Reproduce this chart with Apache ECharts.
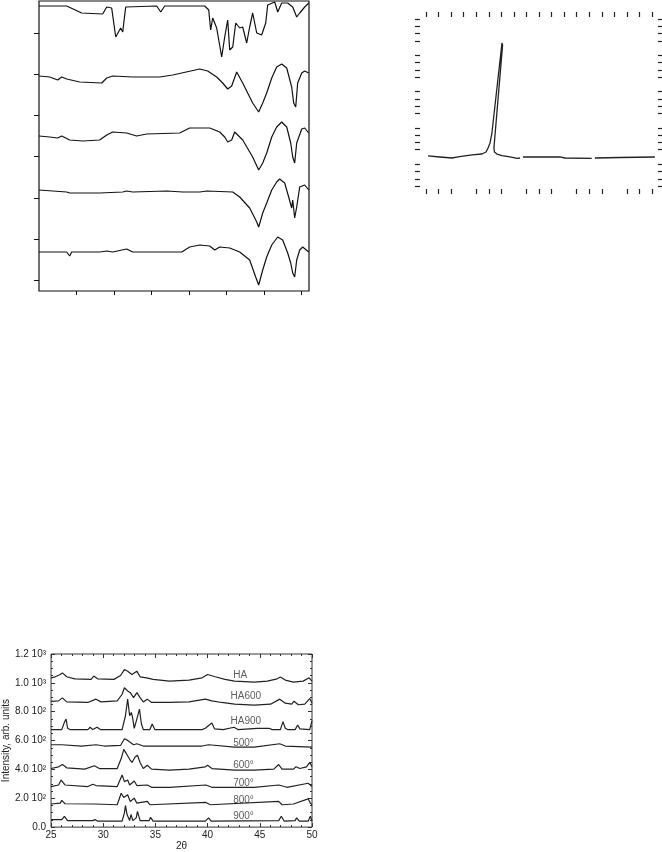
<!DOCTYPE html>
<html>
<head>
<meta charset="utf-8">
<script src="https://cdn.jsdelivr.net/npm/echarts@6/dist/echarts.min.js"></script>
<style>
html,body{margin:0;padding:0;background:#fff;}
#chart{width:662px;height:852px;}
</style>
</head>
<body>
<div id="chart"></div>
<script>
// ---------- Panel 1: IR spectra (wavenumber, transmittance offset) ----------
const irTickWavenumbers = [3500, 3000, 2500, 2000, 1500, 1000, 500];
const irTickLevels = [11, 52, 93, 135, 176, 217, 258];
const irTrace1 = [[4000,285],[3631,285],[3431,278],[3151,277],[3097,284],[3031,283],[2977,254],[2911,263],[2884,259],[2844,284],[2431,285],[2377,279],[2324,285],[1791,285],[1737,281],[1711,261],[1684,273],[1631,263],[1564,234],[1524,254],[1484,271],[1457,241],[1417,244],[1377,268],[1324,263],[1284,264],[1231,248],[1191,264],[1151,278],[1097,258],[1031,256],[977,268],[951,286],[857,289],[817,279],[764,288],[684,288],[617,284],[564,274],[524,278],[457,284],[404,288]];
const irTrace2 = [[4000,215],[3857,214],[3751,211],[3697,214],[3631,212],[3457,209],[3164,208],[3097,213],[3017,215],[2751,214],[2391,214],[2217,216],[1857,222],[1751,220],[1631,214],[1551,208],[1484,202],[1431,205],[1364,219],[1284,208],[1151,188],[1071,179],[1017,188],[964,198],[897,213],[831,224],[764,227],[697,223],[631,204],[604,188],[577,184],[551,208],[497,218],[457,220],[404,218]];
const irTrace3 = [[4000,155],[3857,154],[3751,153],[3697,155],[3591,151],[3413,150],[3191,151],[3097,156],[3017,159],[2831,158],[2698,155],[2564,157],[2124,158],[1991,163],[1724,163],[1591,159],[1524,154],[1484,149],[1431,151],[1391,159],[1284,151],[1151,134],[1071,121],[1017,128],[964,138],[897,154],[831,164],[764,169],[697,164],[644,148],[617,134],[591,128],[564,148],[497,162],[457,163],[404,158]];
const irTrace4 = [[4000,101],[3631,99],[3591,98],[3191,98],[2884,99],[2831,100],[2751,99],[2297,100],[2084,99],[1857,99],[1764,100],[1417,99],[1324,94],[1191,83],[1097,69],[1071,64],[1017,78],[964,88],[897,101],[831,109],[791,112],[724,108],[671,94],[631,83],[617,91],[591,73],[564,84],[524,104],[457,106],[404,101]];
const irTrace5 = [[4000,39],[3631,39],[3591,35],[3564,39],[3191,39],[3097,40],[3017,39],[2831,42],[2751,39],[2524,39],[2097,39],[1991,44],[1857,46],[1724,45],[1657,41],[1591,44],[1457,43],[1324,39],[1191,31],[1111,14],[1071,6],[1017,21],[964,34],[897,46],[817,54],[751,51],[684,38],[644,28],[617,18],[591,14],[564,31],[524,41],[484,44],[404,39]];

// ---------- Panel 2: single spike trace ----------
const spikeTopTicks = [0,1,2,3,4,5,6,7,8,9,10,11,12,13,14,15,16,17,18];
const spikeBottomTicks = [0,1,2,4,5,6,8,9,10,12,13,14,16,17,18];
const spikeSideTicks = [-4,-3,-2,-1,1,2,3,4,6,7,8,9,11,12,13,14,16,17,18,19];
const spikeTrace = [[0.16,0.14],[1.11,0],[2.07,-0.14],[2.55,0],[3.1,0.14],[3.66,0.28],[4.46,0.41],[4.78,0.69],[4.94,1.24],[5.1,1.93],[5.25,3.3],[6.05,15.7],[6.1,15.4],[5.41,1.24],[5.45,0.69],[5.65,0.41],[6.05,0.2],[6.69,0],[7.25,-0.2],[7.48,-0.14],[7.6,'-'],[7.72,0],[10.67,0],[11.07,-0.14],[13.2,-0.2],[13.3,'-'],[13.45,-0.14],[15.45,-0.07],[18.23,0]];

// ---------- Panel 3: XRD patterns (2θ, intensity) ----------
const xrdYLabels = {0:'0.0',200:'2.0 10²',400:'4.0 10²',600:'6.0 10²',800:'8.0 10²',1000:'1.0 10³',1200:'1.2 10³'};
const xrdNames = ['HA','HA600','HA900','500°','600°','700°','800°','900°'];
const xrdLabelX = [42.45,42.2,42.2,42.45,42.45,42.45,42.45,42.45];
const xrdLabelY = [1056,907,734,583,427,302,187,73];
const xrdHA = [[25.00,1035],[25.41,1042],[25.88,1058],[26.09,1069],[26.50,1042],[27.28,1028],[28.84,1024],[29.09,1047],[29.47,1028],[31.03,1024],[31.66,1051],[32.03,1092],[32.34,1081],[32.75,1058],[33.22,1081],[33.53,1042],[34.16,1035],[34.78,1024],[36.34,1012],[38.22,1019],[39.47,1035],[40.00,1058],[40.72,1042],[41.66,1024],[42.59,1012],[44.47,1005],[45.72,1012],[46.66,1028],[46.97,1040],[47.44,1019],[48.22,1005],[49.16,1012],[49.72,1035],[50.00,1012]];
const xrdHA600 = [[25.00,871],[25.72,875],[26.09,896],[26.50,868],[28.53,864],[29.31,887],[29.78,868],[31.34,875],[31.81,921],[32.03,966],[32.34,944],[32.59,932],[32.91,898],[33.22,932],[33.53,898],[33.84,868],[34.22,887],[34.63,864],[36.34,864],[38.22,868],[39.78,887],[40.41,875],[41.34,864],[42.59,852],[44.47,845],[46.03,852],[46.91,887],[47.44,859],[48.06,852],[48.28,873],[48.69,848],[49.31,852],[49.78,891],[50.00,859]];
const xrdHA900 = [[25.00,676],[26.03,676],[26.28,727],[26.44,749],[26.59,685],[26.81,676],[28.53,676],[28.75,692],[29.00,676],[29.41,692],[29.72,676],[31.81,676],[32.13,772],[32.34,887],[32.53,772],[32.69,795],[32.81,761],[32.97,685],[33.22,749],[33.47,818],[33.66,715],[33.84,676],[34.47,676],[34.69,715],[34.94,676],[35.88,676],[36.03,688],[36.19,676],[39.47,676],[39.78,685],[40.16,708],[40.41,722],[40.66,681],[41.50,676],[42.53,692],[42.91,676],[44.78,685],[45.88,685],[46.19,676],[46.97,676],[47.22,731],[47.44,685],[47.66,676],[48.38,676],[48.63,708],[48.84,681],[49.78,676],[50.00,738]];
const xrd500 = [[25.00,571],[26.03,571],[27.91,562],[29.31,571],[30.09,562],[31.66,566],[32.03,612],[32.34,601],[32.91,571],[33.22,578],[33.84,562],[36.34,562],[39.47,562],[40.09,571],[42.59,555],[44.47,555],[46.91,578],[47.44,562],[50.00,555]];
const xrd600 = [[25.00,406],[25.72,418],[26.09,434],[26.50,411],[28.22,402],[29.16,425],[29.63,406],[31.34,406],[31.72,475],[31.97,539],[32.22,509],[32.53,470],[32.75,448],[33.06,486],[33.28,498],[33.53,448],[33.84,406],[34.22,429],[34.63,402],[36.34,395],[38.22,402],[39.78,418],[40.00,429],[40.41,406],[42.59,395],[44.47,395],[46.34,402],[46.81,434],[47.13,402],[48.22,402],[48.47,418],[48.84,406],[49.47,418],[49.78,448],[50.00,418]];
const xrd700 = [[25.00,281],[25.72,292],[25.97,326],[26.34,292],[28.53,281],[29.00,297],[29.31,288],[31.34,281],[31.81,361],[32.03,315],[32.34,326],[32.53,292],[32.97,320],[33.22,288],[34.22,292],[34.63,276],[36.34,276],[39.84,292],[40.41,276],[44.47,276],[46.81,292],[47.59,276],[49.63,304],[50.00,281]];
const xrd800 = [[25.00,160],[25.88,166],[26.03,185],[26.34,162],[29.16,160],[31.34,155],[31.72,235],[31.97,205],[32.34,224],[32.59,178],[32.97,201],[33.22,166],[34.22,178],[34.47,155],[39.84,171],[40.25,155],[46.81,178],[47.13,155],[48.22,160],[49.63,196],[49.84,166],[50.00,155]];
const xrd900 = [[25.00,52],[26.03,52],[26.28,75],[26.59,45],[29.00,45],[29.22,52],[29.47,41],[31.81,41],[32.03,98],[32.13,150],[32.28,87],[32.53,45],[32.66,87],[32.84,45],[33.16,64],[33.28,109],[33.53,45],[34.41,45],[34.53,68],[34.78,41],[39.78,41],[40.09,64],[40.34,41],[46.81,45],[47.06,75],[47.34,41],[48.38,45],[48.53,64],[48.78,41],[49.63,41],[49.84,75],[50.00,41]];

const FONT = "'Liberation Sans', Arial, sans-serif";
const chart = echarts.init(document.getElementById('chart'), null, {renderer:'canvas'});

function line(data, xi, yi, w, c) {
  return {type:'line', data:data, xAxisIndex:xi, yAxisIndex:yi, showSymbol:false, symbol:'none',
    lineStyle:{color:c, width:w}, animation:false, silent:true, connectNulls:false};
}
const hidden = {axisLine:{show:false, onZero:false}, splitLine:{show:false}, axisLabel:{show:false}};
const noLine = {show:false, onZero:false};

const option = {
  animation:false,
  backgroundColor:'#fff',
  grid:[
    {left:39, top:1, width:270, height:290, show:true, borderColor:'#111', borderWidth:1.2, backgroundColor:'transparent'},
    {left:420, top:17, width:238, height:172, show:false},
    {left:46, top:654, width:266, height:175, show:true, borderColor:'#333', borderWidth:1, backgroundColor:'transparent'}
  ],
  xAxis:[
    Object.assign({type:'value', gridIndex:0, min:400, max:4000, inverse:true,
      axisTick:{show:true, length:4, customValues:irTickWavenumbers, lineStyle:{color:'#111', width:1}}}, hidden),
    Object.assign({type:'value', gridIndex:1, position:'bottom', min:-0.478, max:18.478,
      axisTick:{show:true, length:5, customValues:spikeBottomTicks, lineStyle:{color:'#222', width:1.2}}}, hidden),
    Object.assign({type:'value', gridIndex:1, position:'top', min:-0.478, max:18.478,
      axisTick:{show:true, length:5, customValues:spikeTopTicks, lineStyle:{color:'#222', width:1.2}}}, hidden),
    {type:'value', gridIndex:2, min:25, max:50, interval:5,
      axisLine:noLine, splitLine:{show:false},
      axisTick:{show:true, inside:true, length:4, lineStyle:{color:'#333'}},
      minorTick:{show:true, splitNumber:5, length:2, lineStyle:{color:'#333'}},
      axisLabel:{color:'#222', fontFamily:FONT, fontSize:10, margin:3},
      name:'2θ', nameLocation:'middle', nameGap:12, nameTextStyle:{color:'#222', fontFamily:FONT, fontSize:10}},
    {type:'value', gridIndex:2, position:'top', min:25, max:50, interval:5,
      axisLine:noLine, splitLine:{show:false}, axisLabel:{show:false},
      axisTick:{show:true, inside:true, length:4, lineStyle:{color:'#333'}},
      minorTick:{show:true, splitNumber:5, length:2, lineStyle:{color:'#333'}}}
  ],
  yAxis:[
    Object.assign({type:'value', gridIndex:0, min:0, max:290,
      axisTick:{show:true, length:5, customValues:irTickLevels, lineStyle:{color:'#111', width:1}}}, hidden),
    Object.assign({type:'value', gridIndex:1, position:'left', min:-4.41, max:19.28,
      axisTick:{show:true, length:5, customValues:spikeSideTicks, lineStyle:{color:'#222', width:1.2}}}, hidden),
    Object.assign({type:'value', gridIndex:1, position:'right', min:-4.41, max:19.28,
      axisTick:{show:true, length:5, customValues:spikeSideTicks, lineStyle:{color:'#222', width:1.2}}}, hidden),
    {type:'value', gridIndex:2, min:0, max:1200, interval:200,
      axisLine:noLine, splitLine:{show:false},
      axisTick:{show:true, inside:true, length:4, lineStyle:{color:'#333'}},
      minorTick:{show:true, splitNumber:4, length:2, lineStyle:{color:'#333'}},
      axisLabel:{color:'#222', fontFamily:FONT, fontSize:10, margin:5, formatter:v => xrdYLabels[v] !== undefined ? xrdYLabels[v] : ''},
      name:'Intensity, arb. units', nameLocation:'middle', nameGap:37, nameTextStyle:{color:'#222', fontFamily:FONT, fontSize:10}},
    {type:'value', gridIndex:2, position:'right', min:0, max:1200, interval:200,
      axisLine:noLine, splitLine:{show:false}, axisLabel:{show:false},
      axisTick:{show:true, inside:true, length:4, lineStyle:{color:'#333'}},
      minorTick:{show:true, splitNumber:4, length:2, lineStyle:{color:'#333'}}}
  ],
  series:[
    line(irTrace1,0,0,1.2,'#111'),
    line(irTrace2,0,0,1.2,'#111'),
    line(irTrace3,0,0,1.2,'#111'),
    line(irTrace4,0,0,1.2,'#111'),
    line(irTrace5,0,0,1.2,'#111'),
    line(spikeTrace,1,1,1.3,'#222'),
    line(xrdHA,3,3,1.2,'#222'),
    line(xrdHA600,3,3,1.2,'#222'),
    line(xrdHA900,3,3,1.2,'#222'),
    line(xrd500,3,3,1.2,'#222'),
    line(xrd600,3,3,1.2,'#222'),
    line(xrd700,3,3,1.2,'#222'),
    line(xrd800,3,3,1.2,'#222'),
    line(xrd900,3,3,1.2,'#222'),
    {type:'scatter', xAxisIndex:3, yAxisIndex:3, symbolSize:0, silent:true, animation:false,
      data: xrdNames.map((n,i) => ({name:n, value:[xrdLabelX[i], xrdLabelY[i]]})),
      label:{show:true, position:'right', distance:0, formatter:'{b}', color:'#333', fontFamily:FONT, fontSize:10}}
  ]
};
chart.setOption(option);
</script>
</body>
</html>
